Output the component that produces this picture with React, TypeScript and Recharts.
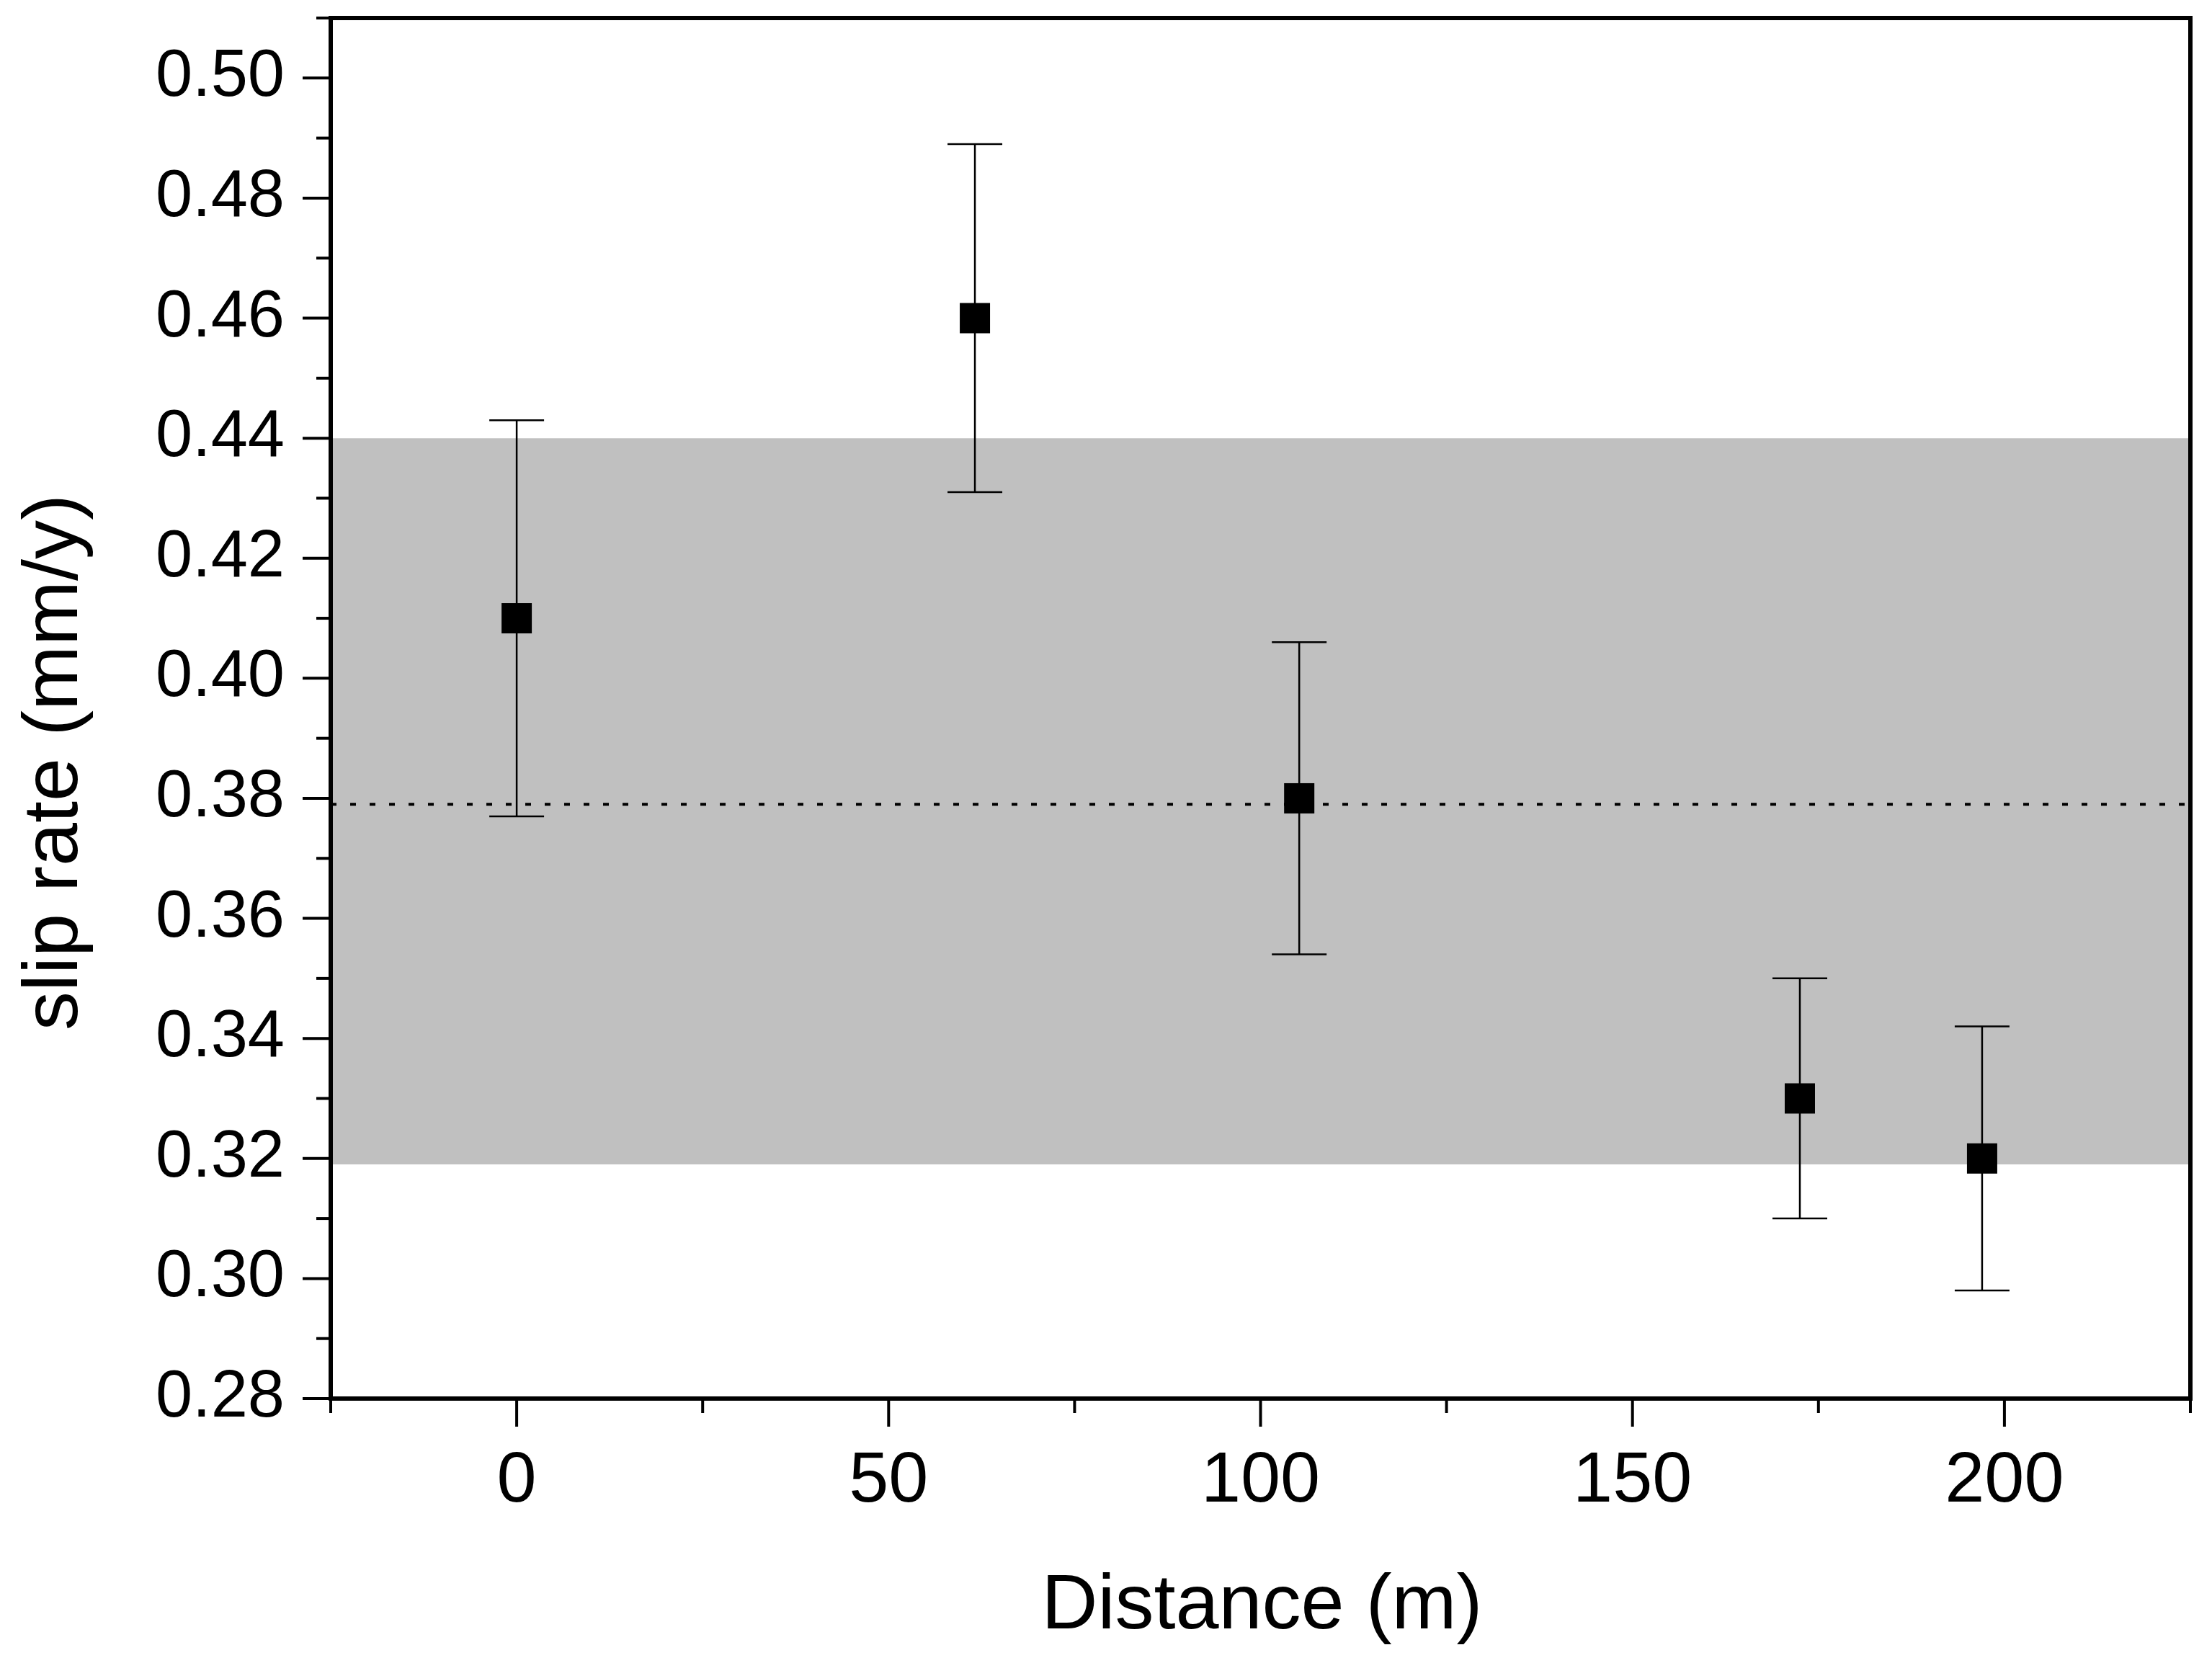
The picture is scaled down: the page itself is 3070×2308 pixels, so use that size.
import React from "react";
import {
  ErrorBar,
  ReferenceArea,
  ReferenceLine,
  Scatter,
  ScatterChart,
  XAxis,
  YAxis,
} from "recharts";

// slip rate measured at each site along the fault
const distance = [0, 61.6, 105.2, 172.5, 197];
const slipRate = [0.41, 0.46, 0.38, 0.33, 0.32];
const slipError = [0.033, 0.029, 0.026, 0.02, 0.022];

// mean rate and its uncertainty band
const meanRate = 0.379;
const bandLow = 0.319;
const bandHigh = 0.44;

const xMajorTicks = [0, 50, 100, 150, 200];
const xMinorTicks = [-25, 25, 75, 125, 175, 225];
const yMajorTicks = [0.28, 0.3, 0.32, 0.34, 0.36, 0.38, 0.4, 0.42, 0.44, 0.46, 0.48, 0.5];
const yMinorTicks = [0.29, 0.31, 0.33, 0.35, 0.37, 0.39, 0.41, 0.43, 0.45, 0.47, 0.49, 0.51];

const xDomain = [-25, 225];
const yDomain = [0.28, 0.51];

const FONT = "'Liberation Sans', Arial, Helvetica, sans-serif";
const FRAME = 6;

const data = distance.map((d, i) => ({ x: d, y: slipRate[i], err: slipError[i] }));
const xTicks = [...xMajorTicks, ...xMinorTicks].sort((a, b) => a - b);
const yTicks = [...yMajorTicks, ...yMinorTicks].sort((a, b) => a - b);

const isMajorX = (v: number) => xMajorTicks.includes(v);
const isMajorY = (v: number) => yMajorTicks.some((t) => Math.abs(t - v) < 1e-6);

const XTick = (props: any) => {
  const { x, y, payload } = props;
  const major = isMajorX(payload.value);
  return (
    <g>
      <line
        x1={x}
        y1={y}
        x2={x}
        y2={y + (major ? 39 : 20)}
        stroke="#000"
        strokeWidth={4}
      />
      {major && (
        <text x={x} y={y + 143} textAnchor="middle" fontSize={99} fontFamily={FONT} fill="#000">
          {payload.value}
        </text>
      )}
    </g>
  );
};

const YTick = (props: any) => {
  const { x, y, payload } = props;
  const major = isMajorY(payload.value);
  return (
    <g>
      <line
        x1={x}
        y1={y}
        x2={x - (major ? 39 : 20)}
        y2={y}
        stroke="#000"
        strokeWidth={4}
      />
      {major && (
        <text x={x - 64} y={y + 25} textAnchor="end" fontSize={92} fontFamily={FONT} fill="#000">
          {payload.value.toFixed(2)}
        </text>
      )}
    </g>
  );
};

const XTitle = (props: any) => {
  const { viewBox } = props;
  const cx = viewBox.x + viewBox.width / 2;
  return (
    <text x={cx + 2} y={viewBox.y + 319} textAnchor="middle" fontSize={108} fontFamily={FONT} fill="#000">
      Distance (m)
    </text>
  );
};

const YTitle = (props: any) => {
  const { viewBox } = props;
  const cy = viewBox.y + viewBox.height / 2 + 75;
  const x = 99;
  return (
    <text
      x={x}
      y={cy}
      transform={`rotate(-90, ${x}, ${cy})`}
      textAnchor="middle"
      fontSize={108}
      fontFamily={FONT}
      fill="#000"
    >
      slip rate (mm/y)
    </text>
  );
};

const Square = (props: any) => {
  const { cx, cy } = props;
  return <rect x={cx - 21} y={cy - 21} width={42} height={42} fill="#000" />;
};

export default function App() {
  return (
    <div style={{ width: 3054, height: 2292, background: "#fff" }}>
      <ScatterChart
        width={3054}
        height={2292}
        margin={{ top: 17, right: 22, bottom: 0, left: 0 }}
      >
        <ReferenceArea
          y1={bandLow}
          y2={bandHigh}
          fill="#c0c0c0"
          fillOpacity={1}
          stroke="none"
        />
        <ReferenceLine
          y={meanRate}
          stroke="#000"
          strokeWidth={4}
          strokeDasharray="8 19"
        />
        <XAxis
          type="number"
          dataKey="x"
          domain={xDomain}
          ticks={xTicks}
          interval={0}
          height={359}
          tickSize={0}
          tickMargin={0}
          tickLine={false}
          tick={<XTick />}
          axisLine={{ stroke: "#000", strokeWidth: FRAME, strokeLinecap: "square" }}
          allowDataOverflow
          label={{ content: <XTitle /> }}
        />
        <YAxis
          type="number"
          dataKey="y"
          domain={yDomain}
          ticks={yTicks}
          interval={0}
          width={451}
          tickSize={0}
          tickMargin={0}
          tickLine={false}
          tick={<YTick />}
          axisLine={{ stroke: "#000", strokeWidth: FRAME, strokeLinecap: "square" }}
          allowDataOverflow
          label={{ content: <YTitle /> }}
        />
        <ReferenceLine y={yDomain[1]} stroke="#000" strokeWidth={FRAME} strokeLinecap="square" ifOverflow="visible" />
        <ReferenceLine x={xDomain[1]} stroke="#000" strokeWidth={FRAME} strokeLinecap="square" ifOverflow="visible" />
        <Scatter data={data} shape={<Square />} isAnimationActive={false}>
          <ErrorBar
            dataKey="err"
            direction="y"
            width={38}
            strokeWidth={2.5}
            stroke="#000"
            isAnimationActive={false}
          />
        </Scatter>
      </ScatterChart>
    </div>
  );
}
